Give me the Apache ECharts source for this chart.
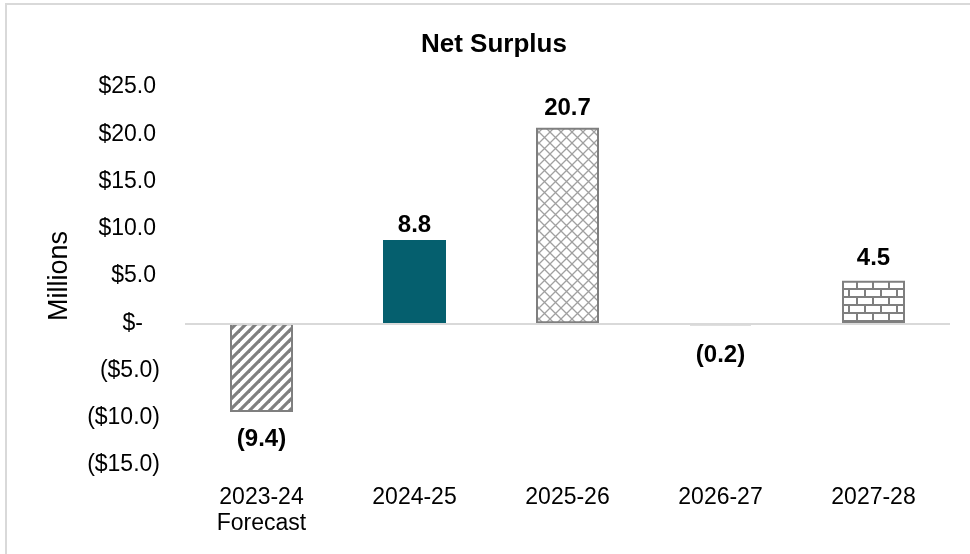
<!DOCTYPE html>
<html>
<head>
<meta charset="utf-8">
<script src="https://cdn.jsdelivr.net/npm/echarts@6/dist/echarts.min.js"></script>
<style>
html,body{margin:0;padding:0;background:#fff;}
#c{width:970px;height:554px;}
</style>
</head>
<body>
<div id="c"></div>
<script>
const title = 'Net Surplus';
const yAxisName = 'Millions';
const categories = ['2023-24\nForecast', '2024-25', '2025-26', '2026-27', '2027-28'];
const values = [-9.4, 8.8, 20.7, -0.2, 4.5];
const yMin = -15, yMax = 25, yStep = 5;

const FONT = 'Liberation Sans';
const GRAY = '#7f7f7f';
const TEAL = '#055f6e';

function makeCanvas(w, h, draw) {
  const c = document.createElement('canvas');
  c.width = w; c.height = h;
  const ctx = c.getContext('2d');
  ctx.fillStyle = '#fff';
  ctx.fillRect(0, 0, w, h);
  draw(ctx);
  return c;
}
const stripes = makeCanvas(10, 10, ctx => {
  ctx.strokeStyle = GRAY; ctx.lineWidth = 3.2;
  for (let k = -1; k <= 1; k++) {
    ctx.beginPath();
    ctx.moveTo(-2 + k * 10, 12); ctx.lineTo(12 + k * 10, -2); ctx.stroke();
  }
});
const trellis = makeCanvas(11, 11, ctx => {
  ctx.strokeStyle = '#a0a0a0'; ctx.lineWidth = 1.3;
  ctx.beginPath();
  ctx.moveTo(0, 0); ctx.lineTo(11, 11);
  ctx.moveTo(11, 0); ctx.lineTo(0, 11);
  ctx.stroke();
});
const brick = makeCanvas(16, 16, ctx => {
  ctx.strokeStyle = GRAY; ctx.lineWidth = 2;
  ctx.beginPath();
  ctx.moveTo(0, 1); ctx.lineTo(16, 1);
  ctx.moveTo(0, 9); ctx.lineTo(16, 9);
  ctx.moveTo(1, 1); ctx.lineTo(1, 9);
  ctx.moveTo(9, 9); ctx.lineTo(9, 16);
  ctx.stroke();
});

const fills = [
  { image: stripes, repeat: 'repeat' },
  TEAL,
  { image: trellis, repeat: 'repeat' },
  GRAY,
  { image: brick, repeat: 'repeat' }
];
const borders = [GRAY, TEAL, GRAY, GRAY, GRAY];
const labelGaps = [15, 3, 7, 18, 10];

function fmtLabel(v) {
  return v < 0 ? '(' + Math.abs(v).toFixed(1) + ')' : v.toFixed(1);
}
function fmtTick(v) {
  if (v === 0) return '{z|$-}';
  if (v < 0) return '{n|($' + Math.abs(v).toFixed(1) + ')}';
  return '{p|$' + v.toFixed(1) + '}';
}

const chart = echarts.init(document.getElementById('c'), null, { renderer: 'canvas' });
chart.setOption({
  animation: false,
  backgroundColor: '#fff',
  textStyle: { fontFamily: FONT },
  title: {
    text: title, left: 416, top: 27,
    textStyle: { fontFamily: FONT, fontSize: 26, fontWeight: 'bold', color: '#000' }
  },
  graphic: [{
    type: 'rect', shape: { x: 6, y: 4, width: 1000, height: 600 },
    style: { fill: 'none', stroke: '#d9d9d9', lineWidth: 2 }, silent: true
  }],
  grid: { left: 185, right: 20, top: 87, bottom: 554 - 465, containLabel: false },
  xAxis: {
    type: 'category', data: categories,
    axisLine: { show: false, onZero: false },
    axisTick: { show: false },
    axisLabel: { color: '#000', fontSize: 23, lineHeight: 26, margin: 20, fontFamily: FONT },
    splitLine: { show: false }
  },
  yAxis: {
    type: 'value', min: yMin, max: yMax, interval: yStep,
    name: yAxisName, nameLocation: 'middle', nameGap: 112, nameRotate: 90,
    nameTextStyle: { fontSize: 27, color: '#000', fontFamily: FONT },
    axisLine: { show: false }, axisTick: { show: false },
    splitLine: { show: false },
    axisLabel: {
      formatter: fmtTick, margin: 25, align: 'right',
      rich: {
        p: { fontSize: 23, color: '#000', fontFamily: FONT, padding: [0, 4, 0, 0] },
        n: { fontSize: 23, color: '#000', fontFamily: FONT },
        z: { fontSize: 23, color: '#000', fontFamily: FONT, padding: [0, 17, 0, 0] }
      }
    }
  },
  series: [{
    type: 'bar', barWidth: 63,
    data: values.map((v, i) => ({
      value: v,
      itemStyle: { color: fills[i], borderColor: borders[i], borderWidth: 2 },
      label: { position: v < 0 ? 'bottom' : 'top', distance: labelGaps[i] }
    })),
    label: {
      show: true, color: '#000', fontSize: 24, fontWeight: 'bold', fontFamily: FONT,
      formatter: p => fmtLabel(p.value)
    },
    markLine: {
      silent: true, symbol: 'none', label: { show: false },
      lineStyle: { color: '#d9d9d9', width: 2, type: 'solid' },
      data: [{ yAxis: 0 }]
    },
    z: 2
  }]
});
</script>
</body>
</html>
